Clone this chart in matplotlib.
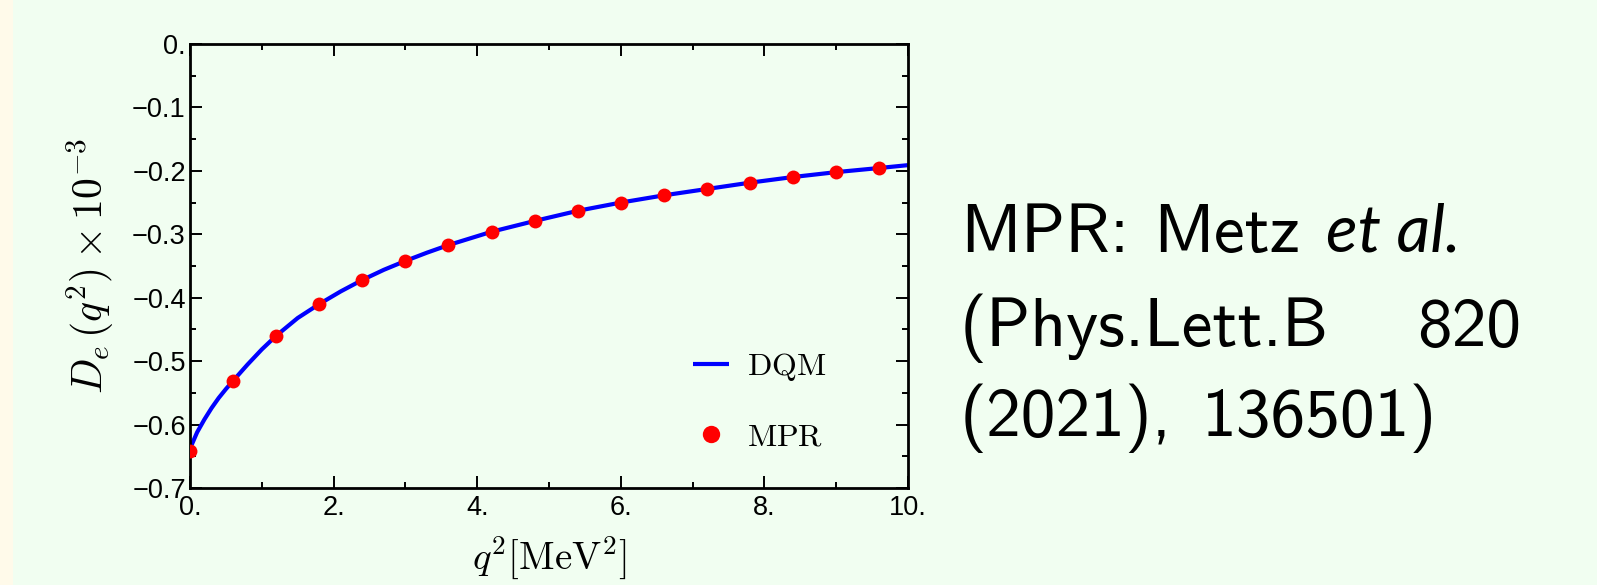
import matplotlib
matplotlib.use("Agg")
import matplotlib.pyplot as plt
from matplotlib.patches import Rectangle
from matplotlib.text import Annotation
from matplotlib.ticker import MultipleLocator

# ---------------- data ----------------
q2_mpr = [0.0, 0.6, 1.2, 1.8, 2.4, 3.0, 3.6, 4.2, 4.8, 5.4, 6.0, 6.6, 7.2, 7.8, 8.4, 9.0, 9.6]
de_mpr = [-0.642, -0.531, -0.460, -0.410, -0.372, -0.342, -0.317, -0.297, -0.279, -0.263,
          -0.250, -0.2386, -0.2286, -0.2186, -0.2097, -0.202, -0.1955]

q2_dqm = [0.0, 0.1, 0.2, 0.3, 0.4, 0.5, 0.6, 0.8, 1.0, 1.2, 1.5, 1.8, 2.1, 2.4, 2.7, 3.0,
          3.3, 3.6, 4.2, 4.8, 5.4, 6.0, 6.6, 7.2, 7.8, 8.4, 9.0, 9.6, 10.0]
de_dqm = [-0.638, -0.612, -0.592, -0.574, -0.558, -0.544, -0.531, -0.5055, -0.4815, -0.460,
          -0.432, -0.410, -0.390, -0.372, -0.356, -0.342, -0.329, -0.317, -0.296, -0.279,
          -0.263, -0.250, -0.2386, -0.2286, -0.2186, -0.2097, -0.202, -0.1955, -0.191]

x_ticks = [0, 2, 4, 6, 8, 10]
x_ticklabels = ["0.", "2.", "4.", "6.", "8.", "10."]
y_ticks = [0.0, -0.1, -0.2, -0.3, -0.4, -0.5, -0.6, -0.7]
y_ticklabels = ["0.", "\u22120.1", "\u22120.2", "\u22120.3", "\u22120.4", "\u22120.5", "\u22120.6", "\u22120.7"]

series_labels = [r"$\mathrm{DQM}$", r"$\mathrm{MPR}$"]
x_label = r"$q^2[\mathrm{MeV}^2]$"
y_label = r"$D_e\,(q^2)\times 10^{-3}$"

note_lines = [["MPR:", "Metz", "et al."],
              ["(Phys.Lett.B", "820"],
              ["(2021),", "136501)"]]

# ---------------- style ----------------
plt.rcParams["mathtext.fontset"] = "cm"
W, H = 1597, 585
BG = "#F1FEF1"
STRIP = "#FFFAEA"
TICKFONT = ["Liberation Sans", "DejaVu Sans"]
TICK_FS = 19.5

fig = plt.figure(figsize=(W / 100, H / 100), dpi=100, facecolor=BG)
fig.patches.append(Rectangle((0, 0), 13 / W, 1, transform=fig.transFigure,
                             facecolor=STRIP, edgecolor="none", zorder=-10))

ax = fig.add_axes([190 / W, 1 - 488 / H, (908 - 190) / W, (488 - 44) / H])
ax.set_facecolor(BG)

ax.plot(q2_dqm, de_dqm, color="#0000FF", lw=3.0, label=series_labels[0], zorder=2,
        solid_capstyle="butt")
ax.plot(q2_mpr, de_mpr, linestyle="none", marker="o", ms=10, color="#FF0000",
        markeredgewidth=0, label=series_labels[1], zorder=3)

ax.set_xlim(0, 10)
ax.set_ylim(-0.7, 0.0)
ax.set_xticks(x_ticks)
ax.set_xticklabels(x_ticklabels, fontsize=TICK_FS, family=TICKFONT)
ax.set_yticks(y_ticks)
ax.set_yticklabels(y_ticklabels, fontsize=TICK_FS, family=TICKFONT)
ax.xaxis.set_minor_locator(MultipleLocator(1))
ax.yaxis.set_minor_locator(MultipleLocator(0.05))
ax.tick_params(which="both", direction="in", top=True, right=True, width=1.4, color="black")
ax.tick_params(which="major", length=8.5)
ax.tick_params(which="minor", length=4.5)
ax.tick_params(axis="x", which="major", pad=5)
ax.tick_params(axis="y", which="major", pad=3)
for s in ax.spines.values():
    s.set_linewidth(2.0)

ax.set_xlabel(x_label, fontsize=28, va="center")
ax.xaxis.set_label_coords(0.5, (488 - 558) / 444)
ax.set_ylabel(y_label, fontsize=30, va="center")
ax.yaxis.set_label_coords((90 - 190) / 718, 0.5)

leg = ax.legend(loc="center left", bbox_to_anchor=(693 / W, 1 - 402 / H),
                bbox_transform=fig.transFigure, frameon=False, fontsize=23,
                borderpad=0, borderaxespad=0, handlelength=1.13, handletextpad=0.56,
                labelspacing=1.2, markerscale=1.25)

# ---------------- right-hand note ----------------
NOTE_FS = 50
note_x = 960
baselines = [252, 346, 436]           # pixels from top
gaps = [[24, 26], [88], [30]]         # pixel gaps between words
for li, words in enumerate(note_lines):
    yb = H - baselines[li]
    prev = fig.text(note_x / W, yb / H, words[0], fontsize=NOTE_FS, family="cmss10",
                    va="baseline", ha="left")
    for wi, w in enumerate(words[1:]):
        italic = (w == "et al.")
        prev = fig.add_artist(Annotation(
            w, xy=(1, yb), xycoords=(prev, "figure pixels"),
            xytext=(gaps[li][wi], 0), textcoords="offset pixels",
            fontsize=NOTE_FS * (0.95 if italic else 1.0),
            family=["Lato", "Liberation Sans"] if italic else "cmss10",
            style="italic" if italic else "normal",
            va="baseline", ha="left"))

fig.savefig("out.png", dpi=100, facecolor=BG)
